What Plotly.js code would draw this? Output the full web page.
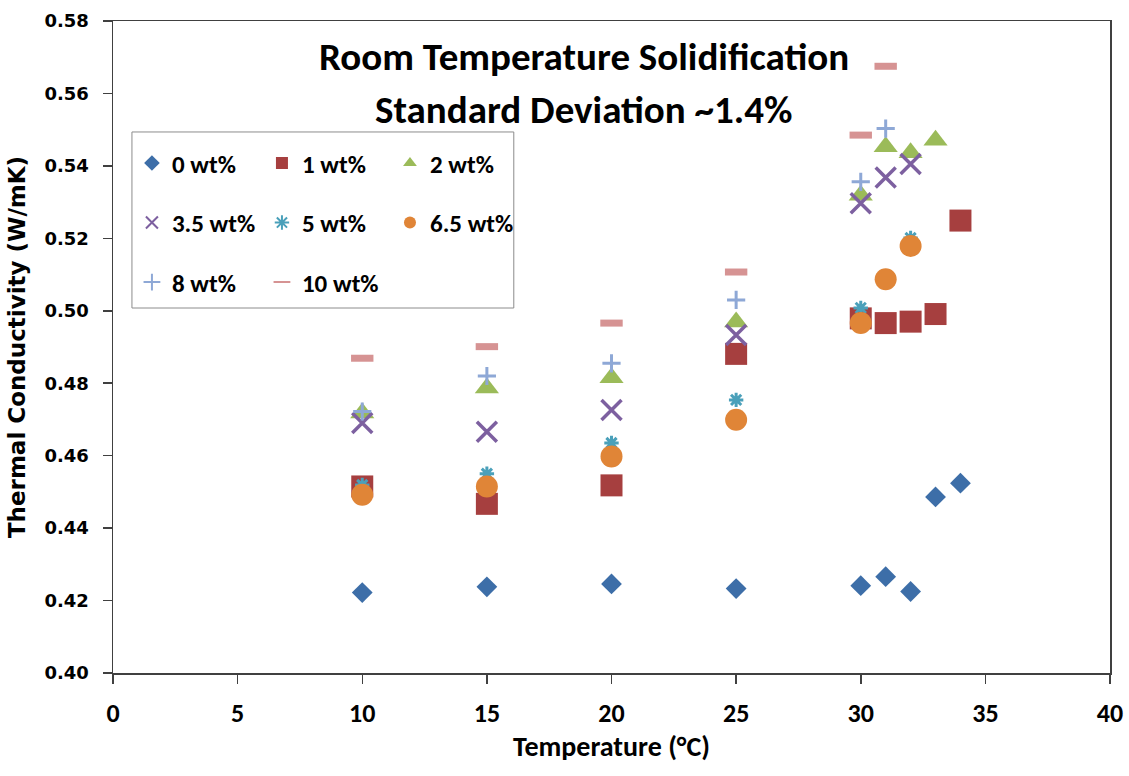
<!DOCTYPE html>
<html>
<head>
<meta charset="utf-8">
<script src="https://cdn.plot.ly/plotly-3.0.1.min.js"></script>
<style>
  html, body { margin: 0; padding: 0; background: #ffffff; }
  #chart { width: 1129px; height: 776px; }
</style>
</head>
<body>
<div id="chart"></div>
<script>
// Thermal conductivity (W/mK) vs temperature (°C) for each additive loading
var temp_0   = [10, 15, 20, 25, 30, 31, 32, 33, 34];
var k_0      = [0.4222, 0.4238, 0.4246, 0.4233, 0.4241, 0.4266, 0.4225, 0.4486, 0.4524];

var temp_1   = [10, 15, 20, 25, 30, 31, 32, 33, 34];
var k_1      = [0.4515, 0.4467, 0.4518, 0.4881, 0.4979, 0.4966, 0.4970, 0.4991, 0.5249];

var temp_2   = [10, 15, 20, 25, 30, 31, 32, 33];
var k_2      = [0.4718, 0.4787, 0.4815, 0.4969, 0.5319, 0.5453, 0.5436, 0.5471];

var temp_3_5 = [10, 15, 20, 25, 30, 31, 32];
var k_3_5    = [0.4690, 0.4666, 0.4726, 0.4933, 0.5297, 0.5368, 0.5405];

var temp_5   = [10, 15, 20, 25, 30, 32];
var k_5      = [0.4519, 0.4550, 0.4635, 0.4754, 0.5008, 0.5201];

var temp_6_5 = [10, 15, 20, 25, 30, 31, 32];
var k_6_5    = [0.4492, 0.4515, 0.4598, 0.4699, 0.4966, 0.5087, 0.5179];

var temp_8   = [10, 15, 20, 25, 30, 31];
var k_8      = [0.4722, 0.4820, 0.4855, 0.5030, 0.5356, 0.5503];

var temp_10  = [10, 15, 20, 25, 30, 31];
var k_10     = [0.4869, 0.4901, 0.4966, 0.5107, 0.5485, 0.5675];

var seriesNames = ['0 wt%', '1 wt%', '2 wt%', '3.5 wt%', '5 wt%', '6.5 wt%', '8 wt%', '10 wt%'];
var titleLines  = ['Room Temperature Solidification', 'Standard Deviation ~1.4%'];
var xTitle = 'Temperature (°C)';
var yTitle = 'Thermal Conductivity (W/mK)';

function series(name, xs, ys, legendId, marker) {
  return {
    type: 'scatter', mode: 'markers', name: name,
    x: xs, y: ys, legend: legendId, legendgroup: name,
    marker: marker, cliponaxis: false
  };
}

var traces = [
  series(seriesNames[0], temp_0, k_0, 'legend',
         {symbol: 'diamond', size: 16, color: '#3d6ea8'}),
  series(seriesNames[1], temp_1, k_1, 'legend2',
         {symbol: 'square', size: 22, color: '#a63f3f'}),
  series(seriesNames[2], temp_2, k_2, 'legend3',
         {symbol: 'triangle-up', size: 21, color: '#9bbb59'}),
  series(seriesNames[3], temp_3_5, k_3_5, 'legend',
         {symbol: 'x-thin-open', size: 20, color: '#7d60a0', line: {width: 3.5, color: '#7d60a0'}}),
  series(seriesNames[4], temp_5, k_5, 'legend2',
         {symbol: 'asterisk-open', size: 12, color: '#4aa0ba', line: {width: 3, color: '#4aa0ba'}}),
  series(seriesNames[5], temp_6_5, k_6_5, 'legend3',
         {symbol: 'circle', size: 22, color: '#e08537'}),
  series(seriesNames[6], temp_8, k_8, 'legend',
         {symbol: 'cross-thin-open', size: 13, color: '#8ea8d6', line: {width: 3, color: '#8ea8d6'}}),
  series(seriesNames[7], temp_10, k_10, 'legend2',
         {symbol: 'line-ew-open', size: 16, color: '#d69393', line: {width: 7, color: '#d69393'}})
];

var axisColor = '#404040';
var calibriLike = 'Carlito, Liberation Sans, Arial, sans-serif';
var verdanaLike = 'DejaVu Sans, Verdana, sans-serif';
var legendFont = {family: calibriLike, size: 25, weight: 'bold', color: '#000'};

function legendColumn(xPos) {
  return {
    x: xPos, y: 0.817, xanchor: 'left', yanchor: 'top',
    bgcolor: 'rgba(0,0,0,0)', borderwidth: 0,
    font: legendFont, itemsizing: 'constant',
    traceorder: 'grouped', tracegroupgap: 24
  };
}

var layout = {
  width: 1129, height: 776,
  margin: {l: 113, r: 19, t: 21, b: 103},
  paper_bgcolor: '#ffffff', plot_bgcolor: '#ffffff',
  showlegend: true,
  xaxis: {
    range: [0, 40], dtick: 5, tick0: 0,
    showline: true, mirror: true, linecolor: axisColor, linewidth: 1.5,
    ticks: 'outside', ticklen: 9, tickwidth: 1.5, tickcolor: axisColor,
    showgrid: false, zeroline: false,
    tickfont: {family: calibriLike, size: 26, weight: 'bold', color: '#000'},
    ticklabelstandoff: 7,
    title: {text: xTitle, standoff: 6,
            font: {family: calibriLike, size: 28, weight: 'bold', color: '#000'}}
  },
  yaxis: {
    range: [0.40, 0.58], dtick: 0.02, tick0: 0.40, tickformat: '.2f',
    showline: true, mirror: true, linecolor: axisColor, linewidth: 1.5,
    ticks: 'outside', ticklen: 9, tickwidth: 1.5, tickcolor: axisColor,
    showgrid: false, zeroline: false,
    tickfont: {family: verdanaLike, size: 18, weight: 'bold', color: '#000'},
    ticklabelstandoff: 10,
    title: {text: yTitle, standoff: 12,
            font: {family: verdanaLike, size: 23, weight: 'bold', color: '#000'}}
  },
  legend: legendColumn(0.019),
  legend2: legendColumn(0.1494),
  legend3: legendColumn(0.2778),
  shapes: [{
    type: 'rect', xref: 'paper', yref: 'paper',
    x0: 0.019, x1: 0.402, y0: 0.5598, y1: 0.8298,
    line: {color: '#8c8c8c', width: 1}, fillcolor: 'rgba(0,0,0,0)', layer: 'below'
  }],
  annotations: [
    {text: titleLines[0], xref: 'paper', yref: 'paper', x: 0.4724, y: 0.9448,
     xanchor: 'center', yanchor: 'middle', showarrow: false,
     font: {family: calibriLike, size: 39, weight: 'bold', color: '#000'}},
    {text: titleLines[1], xref: 'paper', yref: 'paper', x: 0.4724, y: 0.8635,
     xanchor: 'center', yanchor: 'middle', showarrow: false,
     font: {family: calibriLike, size: 39, weight: 'bold', color: '#000'}}
  ]
};

Plotly.newPlot('chart', traces, layout, {displayModeBar: false, staticPlot: true});
</script>
</body>
</html>
